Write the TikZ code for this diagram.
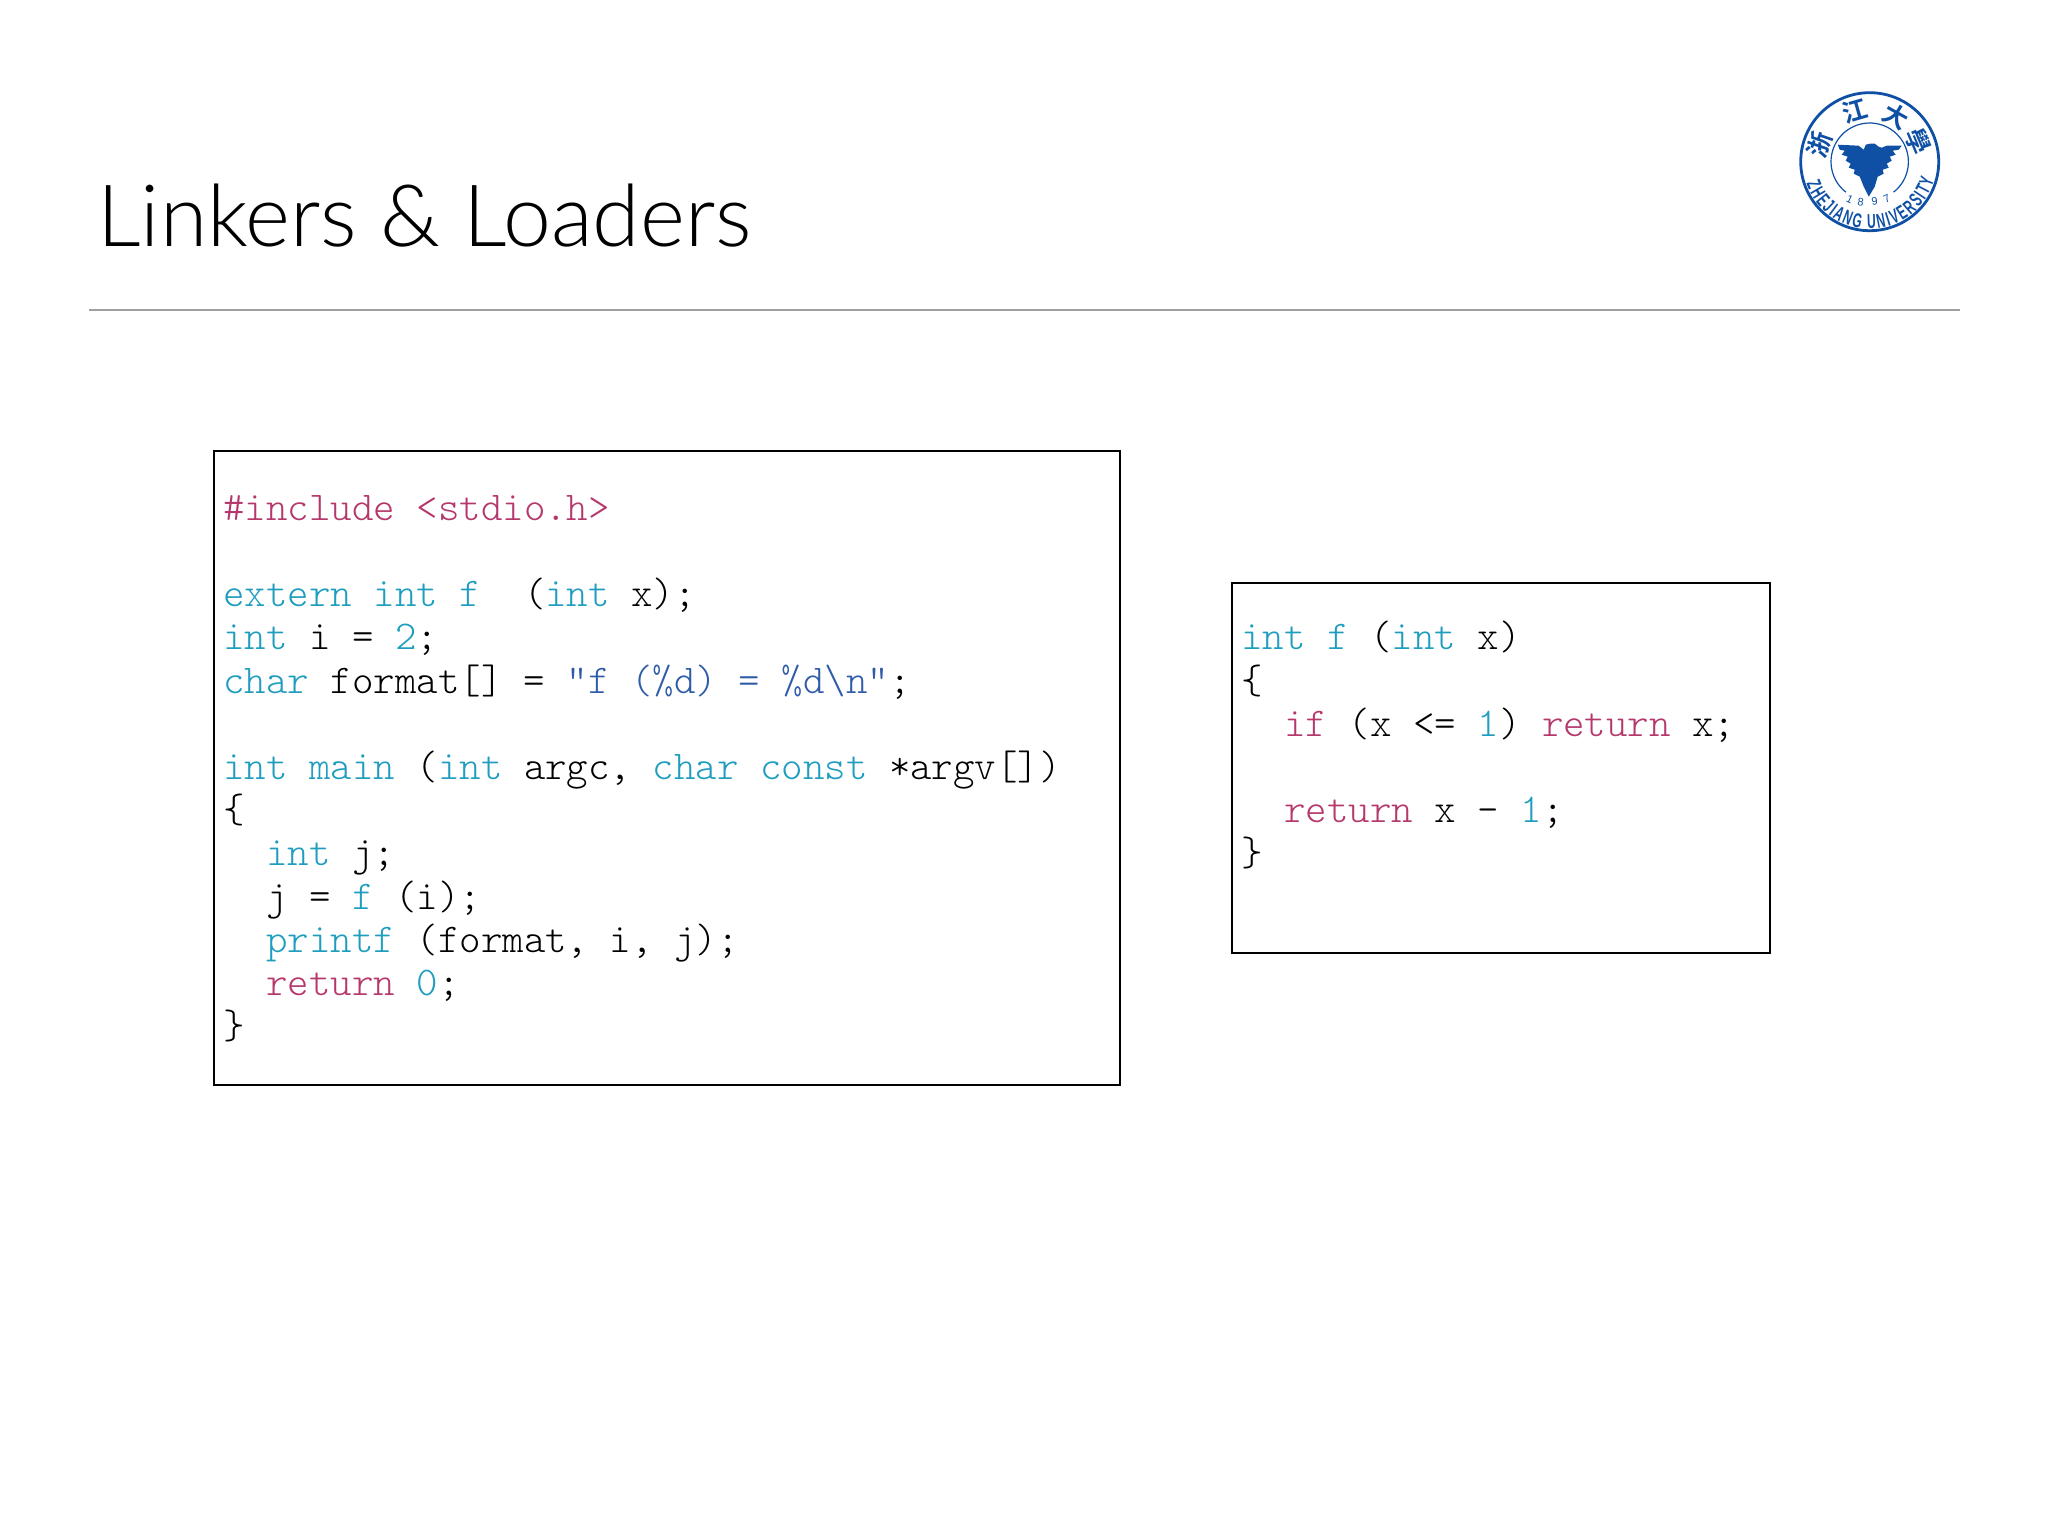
\documentclass[tikz,border=0pt]{standalone}
\usepackage{fontspec}
\usetikzlibrary{decorations.text}
\newfontfamily\titlefont{Lato Light}
\newfontfamily\codefont{Latin Modern Mono Light}
\newfontfamily\logofont[FakeStretch=0.6]{Liberation Sans}
\newfontfamily\digitfont{Liberation Sans}
\newfontfamily\cjkfont{Noto Sans CJK TC Bold}
\definecolor{kwblue}{HTML}{1F9DBF}
\definecolor{kwred}{HTML}{B5376C}
\definecolor{strblue}{HTML}{2F5CA8}
\definecolor{logoblue}{HTML}{0F50A5}
\definecolor{rulegray}{HTML}{A0A0A0}
\newcommand{\kw}[1]{\textcolor{kwblue}{#1}}
\newcommand{\rd}[1]{\textcolor{kwred}{#1}}
\newcommand{\st}[1]{\textcolor{strblue}{#1}}
\tikzset{
  codeline/.style={anchor=base west,inner sep=0pt,font=\codefont\fontsize{20.45}{24}\selectfont\frenchspacing},
  codebox/.style={draw=black,line width=1pt,fill=none,inner sep=0pt,anchor=north west},
  logochar/.style={inner sep=0pt,text=logoblue,font=\cjkfont\fontsize{12.5}{13}\selectfont},
  logodigit/.style={inner sep=0pt,text=logoblue,font=\digitfont\fontsize{5.5}{6}\selectfont},
}
\begin{document}
\begin{tikzpicture}[x=0.5pt,y=0.5pt]
\useasboundingbox (0,0) rectangle (2048,-1536);
\node [anchor=base west,inner sep=0pt,font=\titlefont\fontsize{43}{50}\selectfont] (title) at (97,-246) {Linkers \& Loaders};
\coordinate (ruleL) at (89,-310);
\coordinate (ruleR) at (1960,-310);
\draw [rulegray,line width=1.3pt] (ruleL) -- (ruleR);
% left box
\node [codebox,minimum width=453pt,minimum height=317pt] (mainbox) at (213,-449.8) {};
\node [codeline] (l0) at (223,-520.3) {\rd{\#include <stdio.h>}};
\node [codeline] (l2) at (223,-606.7) {\kw{extern int f}\ \ (\kw{int} x);};
\node [codeline] (l3) at (223,-649.9) {\kw{int} i = \kw{2};};
\node [codeline] (l4) at (223,-693.1) {\kw{char} format[] = \st{"f (\%d) = \%d\textbackslash n"};};
\node [codeline] (l6) at (223,-779.5) {\kw{int main} (\kw{int} argc, \kw{char const} *argv[])};
\node [codeline] (l7) at (223,-822.7) {\{};
\node [codeline] (l8) at (223,-865.9) {\ \ \kw{int} j;};
\node [codeline] (l9) at (223,-909.1) {\ \ j = \kw{f} (i);};
\node [codeline] (l10) at (223,-952.3) {\ \ \kw{printf} (format, i, j);};
\node [codeline] (l11) at (223,-995.5) {\ \ \rd{return} \kw{0};};
\node [codeline] (l12) at (223,-1038.7) {\}};
% right box
\node [codebox,minimum width=269pt,minimum height=185pt] (fbox) at (1230.5,-582.2) {};
\node [codeline] (r0) at (1241,-649.9) {\kw{int f} (\kw{int} x)};
\node [codeline] (r1) at (1241,-693.1) {\{};
\node [codeline] (r2) at (1241,-736.3) {\ \ \rd{if} (x <= \kw{1}) \rd{return} x;};
\node [codeline] (r4) at (1241,-822.7) {\ \ \rd{return} x - \kw{1};};
\node [codeline] (r5) at (1241,-865.9) {\}};
% logo
\begin{scope}[shift={(1869.7,-161.7)}]
\draw [logoblue,line width=1.4pt] (0,0) circle (69);
\draw [logoblue,line width=0.6pt] (232:38.7) arc (232:-52:38.7);
\fill [logoblue] (-32,17) -- (-11,16) -- (-6,12) -- (-4,17) -- (0,18) -- (5,18) -- (9,15) -- (12,14) -- (17,16) -- (32,16) -- (29,12) -- (23,11) -- (26,7) -- (20,5) -- (22,1) -- (17,-2) -- (19,-6) -- (13,-8) -- (14,-12) -- (8,-15) -- (5,-25) -- (-1,-35) -- (-6,-25) -- (-10,-15) -- (-16,-12) -- (-15,-8) -- (-21,-6) -- (-19,-2) -- (-24,1) -- (-22,5) -- (-28,7) -- (-25,11) -- (-30,12) -- cycle;
\path [decorate,decoration={text along path,text align={fit to path},text={|\logofont\bfseries\fontsize{10}{11}\selectfont\color{logoblue}|ZHEJIANG UNIVERSITY}}] (199:67) arc (199:344:67);
\node [logochar,rotate=71] (zhe) at (161:53) {浙};
\node [logochar,rotate=16] (jiang) at (106:53) {江};
\node [logochar,rotate=-29] (da) at (60:53) {大};
\node [logochar,rotate=-67] (xue) at (23:53) {學};
\node [logodigit,rotate=-25] (d1) at (-20,-38) {1};
\node [logodigit,rotate=-8] (d8) at (-9,-40) {8};
\node [logodigit,rotate=8] (d9) at (5,-40) {9};
\node [logodigit,rotate=25] (d7) at (17,-37) {7};
\end{scope}
\end{tikzpicture}
\end{document}
